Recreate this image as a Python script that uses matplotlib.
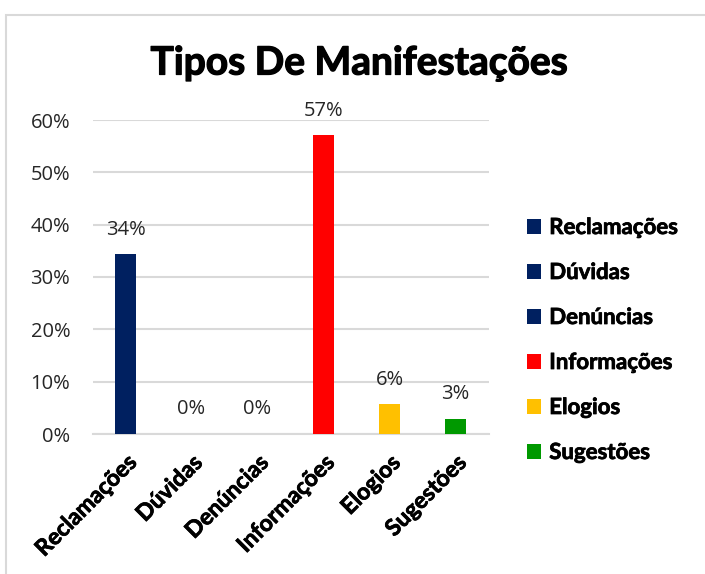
import matplotlib
matplotlib.use("Agg")
import matplotlib.pyplot as plt
from matplotlib.patches import Rectangle
from matplotlib.ticker import FuncFormatter
import matplotlib.patheffects as pe

categories = ["Reclamações", "Dúvidas", "Denúncias", "Informações", "Elogios", "Sugestões"]
values = [34.3, 0.0, 0.0, 57.1, 5.7, 2.9]
labels = ["34%", "0%", "0%", "57%", "6%", "3%"]
colors = ["#002060", "#002060", "#002060", "#FF0000", "#FFC000", "#009900"]
yticks = [0, 10, 20, 30, 40, 50, 60]
title = "Tipos De Manifestações"

W, H = 705, 574
fig = plt.figure(figsize=(W / 100, H / 100), dpi=100)

heavy = [pe.withStroke(linewidth=0.55, foreground="black")]

# chart border (clipped at right/bottom like the screenshot)
fig.patches.append(Rectangle((6 / W, -0.1), 1.2, 1 - 15 / H + 0.1, transform=fig.transFigure,
                             fill=False, edgecolor="#D9D9D9", linewidth=1.5, zorder=0))

ax = fig.add_axes([92.5 / W, 1 - 434 / H, 396 / W, (434 - 120) / H])
x = list(range(len(categories)))
bars = []
for i, (c, v, col) in enumerate(zip(categories, values, colors)):
    b = ax.bar(i, v, width=0.32, color=col, label=c, zorder=3)
    bars.append(b)
    ax.text(i, v + 2.8, labels[i], ha="center", va="bottom", fontsize=14.5,
            family="Open Sans", color="#262626", zorder=4)

ax.set_xlim(-0.5, len(categories) - 0.5)
ax.set_ylim(0, 60)
ax.set_yticks(yticks)
ax.yaxis.set_major_formatter(FuncFormatter(lambda v, p: f"{int(v)}%"))
ax.grid(axis="y", color="#D9D9D9", linewidth=1.5, zorder=0)
for s in ["top", "right", "left"]:
    ax.spines[s].set_visible(False)
ax.spines["bottom"].set_color("#D9D9D9")
ax.spines["bottom"].set_linewidth(1.5)
ax.tick_params(axis="y", length=0, pad=16, labelsize=14.5, labelcolor="#262626")
for t in ax.get_yticklabels():
    t.set_family("Open Sans")
ax.set_xticks(x)
ax.set_xticklabels(categories, rotation=45, ha="right", rotation_mode="anchor",
                   fontsize=16.5, fontweight="bold", family="Lato")
for t in ax.get_xticklabels():
    t.set_path_effects(heavy)
ax.tick_params(axis="x", length=0, pad=13)

fig.text(359 / W, 1 - 63 / H, title, ha="center", va="center", fontsize=28,
         fontweight="bold", family="Lato", color="black",
         path_effects=[pe.withStroke(linewidth=0.9, foreground="black")])

leg = fig.legend(handles=[b for b in bars], labels=categories, loc="upper left",
                 bbox_to_anchor=(507 / W, 1 - 197 / H), frameon=False,
                 prop={"family": "Lato", "weight": "bold", "size": 16},
                 handlelength=0.65, handleheight=0.65, handletextpad=0.35, labelspacing=1.08)
for t in leg.get_texts():
    t.set_path_effects(heavy)

fig.savefig("out.png", dpi=100)
